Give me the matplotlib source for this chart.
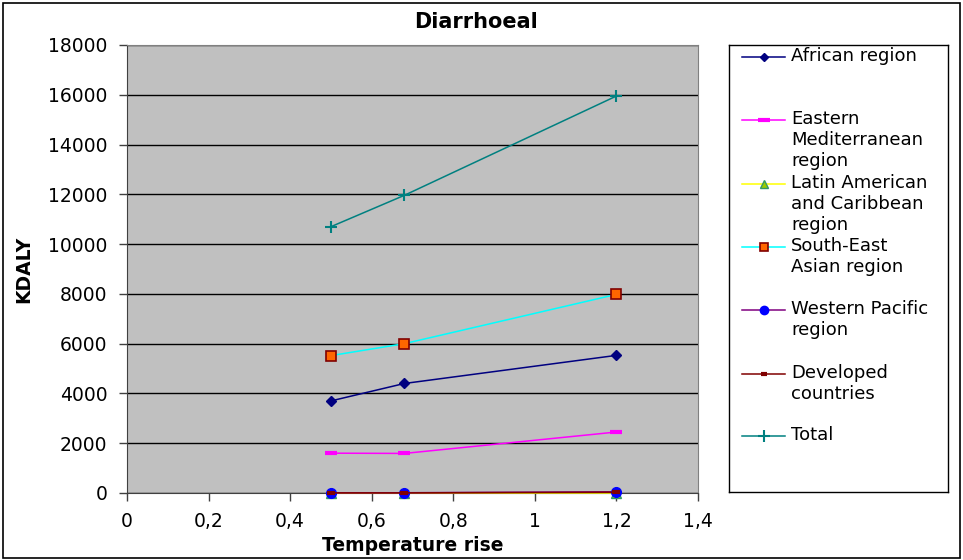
import matplotlib
matplotlib.use("Agg")
import matplotlib.pyplot as plt
from matplotlib.lines import Line2D
from matplotlib.patches import Rectangle
from matplotlib.ticker import FuncFormatter, MultipleLocator

plt.rcParams["font.family"] = ["DejaVu Sans"]

# Temperature rise (degrees) and disease burden (KDALY) per region
temp_rise = [0.5, 0.68, 1.2]
african = [3700, 4400, 5530]
eastern_med = [1600, 1590, 2450]
latin_american = [0, 0, 0]
south_east_asian = [5520, 6000, 7980]
western_pacific = [10, 10, 50]
developed = [5, 5, 30]
total = [10700, 11960, 15950]

labels = ["African region", "Eastern\nMediterranean\nregion",
          "Latin American\nand Caribbean\nregion", "South-East\nAsian region",
          "Western Pacific\nregion", "Developed\ncountries", "Total"]
series = [african, eastern_med, latin_american, south_east_asian,
          western_pacific, developed, total]

# line colour, marker, marker face, marker edge, marker size, edge width
styles = [
    ("#000080", "D", "#000080", "#000080", 5, 1),
    ("#FF00FF", "_", "#FF00FF", "#FF00FF", 9, 3),
    ("#FFFF00", "^", "#99CC00", "#339966", 7, 1),
    ("#00FFFF", "s", "#FF6600", "#800000", 7, 1.2),
    ("#800080", "o", "#0000FF", "#0000FF", 7, 1),
    ("#800000", "_", "#800000", "#800000", 6, 3),
    ("#008080", "+", "#008080", "#008080", 9, 1.5),
]

fig = plt.figure(figsize=(9.63, 5.6), dpi=100)
fig.patches.append(Rectangle((0.003, 0.003), 0.994, 0.992, transform=fig.transFigure,
                             fill=False, edgecolor="black", linewidth=1.2))

ax = fig.add_axes([127 / 963, 67 / 560, 571 / 963, 448 / 560])
ax.set_facecolor("#C0C0C0")
for ys, (col, mk, fc, ec, ms, mew) in zip(series, styles):
    ax.plot(temp_rise, ys, color=col, linewidth=1.1, marker=mk, markersize=ms,
            markerfacecolor=fc, markeredgecolor=ec, markeredgewidth=mew,
            clip_on=False, zorder=3)

ax.set_xlim(0, 1.4)
ax.set_ylim(0, 18000)
ax.xaxis.set_major_locator(MultipleLocator(0.2))
ax.yaxis.set_major_locator(MultipleLocator(2000))
ax.xaxis.set_major_formatter(FuncFormatter(lambda v, p: f"{v:g}".replace(".", ",")))
ax.yaxis.grid(True, color="black", linewidth=1)
ax.set_axisbelow(True)
for side in ["top", "right"]:
    ax.spines[side].set_color("#808080")
for side in ["left", "bottom"]:
    ax.spines[side].set_color("#404040")
ax.tick_params(axis="both", direction="out", length=6, width=1, labelsize=13.5, color="#404040")
ax.tick_params(axis="y", pad=8)
ax.tick_params(axis="x", pad=8)

# Chart title sits centred over the whole chart, not just the plot area
fig.text(476 / 963, 1 - 22 / 560, "Diarrhoeal", fontsize=15, fontweight="bold",
         ha="center", va="center")
ax.set_xlabel("Temperature rise", fontsize=13.5, fontweight="bold", labelpad=3)
ax.set_ylabel("KDALY", fontsize=13.5, fontweight="bold", labelpad=11)

# Legend drawn by hand so the entries keep their uneven spacing
lg = fig.add_axes([729 / 963, 68 / 560, 219 / 963, 447 / 560])
lg.set_xlim(0, 219)
lg.set_ylim(447, 0)
lg.set_xticks([])
lg.set_yticks([])
for s in lg.spines.values():
    s.set_linewidth(1)
entry_y = [12, 75, 139, 202, 265, 329, 391]
for y, lab, (col, mk, fc, ec, ms, mew) in zip(entry_y, labels, styles):
    lg.add_line(Line2D([13, 34.5, 56], [y, y, y], color=col, linewidth=1.1, marker=mk,
                       markevery=[1], markersize=ms - 1, markerfacecolor=fc,
                       markeredgecolor=ec, markeredgewidth=mew))
    lg.text(62, y - 10, lab, fontsize=13, va="top", ha="left", linespacing=1.2)

fig.savefig("out.png", dpi=100)
